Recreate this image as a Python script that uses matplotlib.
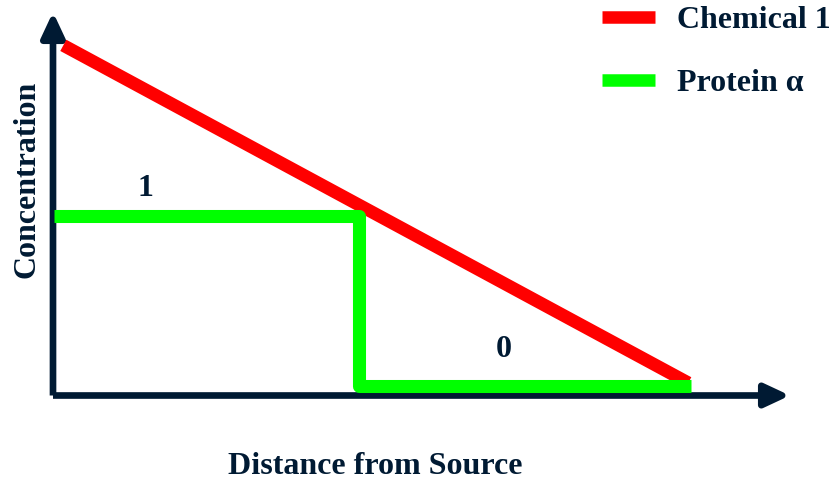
import matplotlib.pyplot as plt
from matplotlib.lines import Line2D

# data (arbitrary units, axes run 0..100)
chem_x = [1.4, 86.2]
chem_y = [91.3, 3.3]

prot_x = [0.1, 41.5, 41.5, 86.6]
prot_y = [46.8, 46.8, 2.5, 2.5]

level_labels = ['1', '0']
level_x = [12.5, 61.2]
level_y = [54.1, 11.9]

series_names = ['Chemical 1', 'Protein \u03b1']

NAVY = '#001a33'
RED = '#ff0000'
GREEN = '#00ff00'
W, H = 834, 482

plt.rcParams['font.family'] = ['Liberation Serif', 'DejaVu Serif']
plt.rcParams['font.weight'] = 'bold'

fig = plt.figure(figsize=(W / 100, H / 100), dpi=100)
# axes origin at pixel (53, 395.5), arrow tips at x=790 and y=12
ax = fig.add_axes([53 / W, (H - 395.5) / H, (790 - 53) / W, (395.5 - 12) / H])
ax.set_xlim(0, 100)
ax.set_ylim(0, 100)
ax.axis('off')

# arrowed axes
arrow = dict(arrowstyle='-|>,head_length=1.5,head_width=0.7', lw=4.8,
             color=NAVY, mutation_scale=10, shrinkA=0, shrinkB=0,
             capstyle='butt')
ax.annotate('', xy=(1, 0), xytext=(0, 0), xycoords='axes fraction',
            arrowprops=arrow)
ax.annotate('', xy=(0, 1), xytext=(0, 0), xycoords='axes fraction',
            arrowprops=arrow)

ax.plot(chem_x, chem_y, color=RED, lw=9.2, solid_capstyle='butt', zorder=3)
ax.plot(prot_x, prot_y, color=GREEN, lw=9.4, solid_capstyle='butt',
        solid_joinstyle='round', zorder=4)

for lab, x, y in zip(level_labels, level_x, level_y):
    ax.text(x, y, lab, fontsize=23, color=NAVY, ha='center', va='center')

fig.text(375 / W, 1 - 466 / H, 'Distance from Source', fontsize=23,
         color=NAVY, ha='center', va='center')
fig.text(27 / W, 1 - 179 / H, 'Concentration', fontsize=23, color=NAVY,
         ha='center', va='center', rotation=90)

handles = [Line2D([], [], color=RED, lw=9, solid_capstyle='butt'),
           Line2D([], [], color=GREEN, lw=9, solid_capstyle='butt')]
leg = fig.legend(handles, series_names, loc='upper left',
                 bbox_to_anchor=(602 / W, 1 - 6 / H), frameon=False,
                 fontsize=23, handlelength=1.66, handletextpad=0.69,
                 labelspacing=1.05, borderpad=0, borderaxespad=0)
for t in leg.get_texts():
    t.set_color(NAVY)

fig.savefig('out.png', dpi=100)
